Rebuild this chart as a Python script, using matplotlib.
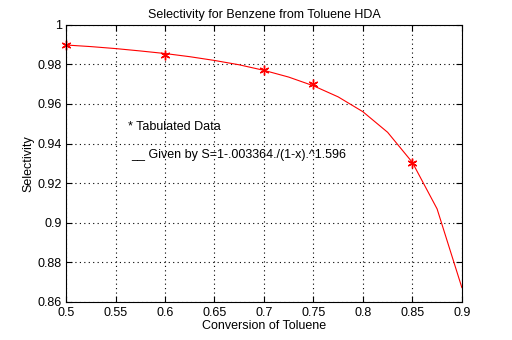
import matplotlib
matplotlib.use("Agg")
import matplotlib.pyplot as plt

# curve (polyline, step 0.025)
conv = [0.5, 0.525, 0.55, 0.575, 0.6, 0.625, 0.65, 0.675, 0.7, 0.725,
        0.75, 0.775, 0.8, 0.825, 0.85, 0.875, 0.9]
sel = [0.9898, 0.9890, 0.9880, 0.9868, 0.9855, 0.9839, 0.9820, 0.9798, 0.9770,
       0.9736, 0.9692, 0.9636, 0.9561, 0.9457, 0.9305, 0.9070, 0.8673]

# tabulated points
tab_conv = [0.5, 0.6, 0.7, 0.75, 0.85]
tab_sel = [0.990, 0.985, 0.977, 0.970, 0.930]

xticks = [0.5, 0.55, 0.6, 0.65, 0.7, 0.75, 0.8, 0.85, 0.9]
yticks = [0.86, 0.88, 0.9, 0.92, 0.94, 0.96, 0.98, 1.0]
ytick_labels = ["0.86", "0.88", "0.9", "0.92", "0.94", "0.96", "0.98", "1"]

plt.rcParams['font.family'] = ['Liberation Sans', 'DejaVu Sans']
plt.rcParams['font.size'] = 9

fig = plt.figure(figsize=(5.12, 3.4), dpi=100)
ax = fig.add_axes([0.129, 0.112, 0.773, 0.815])

ax.plot(conv, sel, color='red', lw=0.8)
ax.plot(tab_conv, tab_sel, linestyle='none', marker=(6, 2, 0), color='red',
        markersize=7, markeredgewidth=1.0, clip_on=False)

ax.set_xlim(0.5, 0.9)
ax.set_ylim(0.86, 1.0)
ax.set_xticks(xticks)
ax.set_xticklabels([("%g" % t) for t in xticks])
ax.set_yticks(yticks)
ax.set_yticklabels(ytick_labels)
ax.tick_params(direction='in', length=4, top=True, right=True)
ax.tick_params(axis='x', pad=4)
ax.tick_params(axis='y', pad=3)
ax.grid(True, color='black', linestyle=(0, (1, 3)), linewidth=0.8)
for s in ax.spines.values():
    s.set_linewidth(0.8)

ax.set_title("Selectivity for Benzene from Toluene HDA", fontsize=9, pad=5)
ax.set_xlabel("Conversion of Toluene", labelpad=0.5)
ax.set_ylabel("Selectivity", labelpad=2)

ax.text(0.5626, 0.9486, "* Tabulated Data", va='center', ha='left')
ax.text(0.5657, 0.934, "__ Given by S=1-.003364./(1-x).^1.596", va='center', ha='left')

fig.savefig("out.png", dpi=100)
